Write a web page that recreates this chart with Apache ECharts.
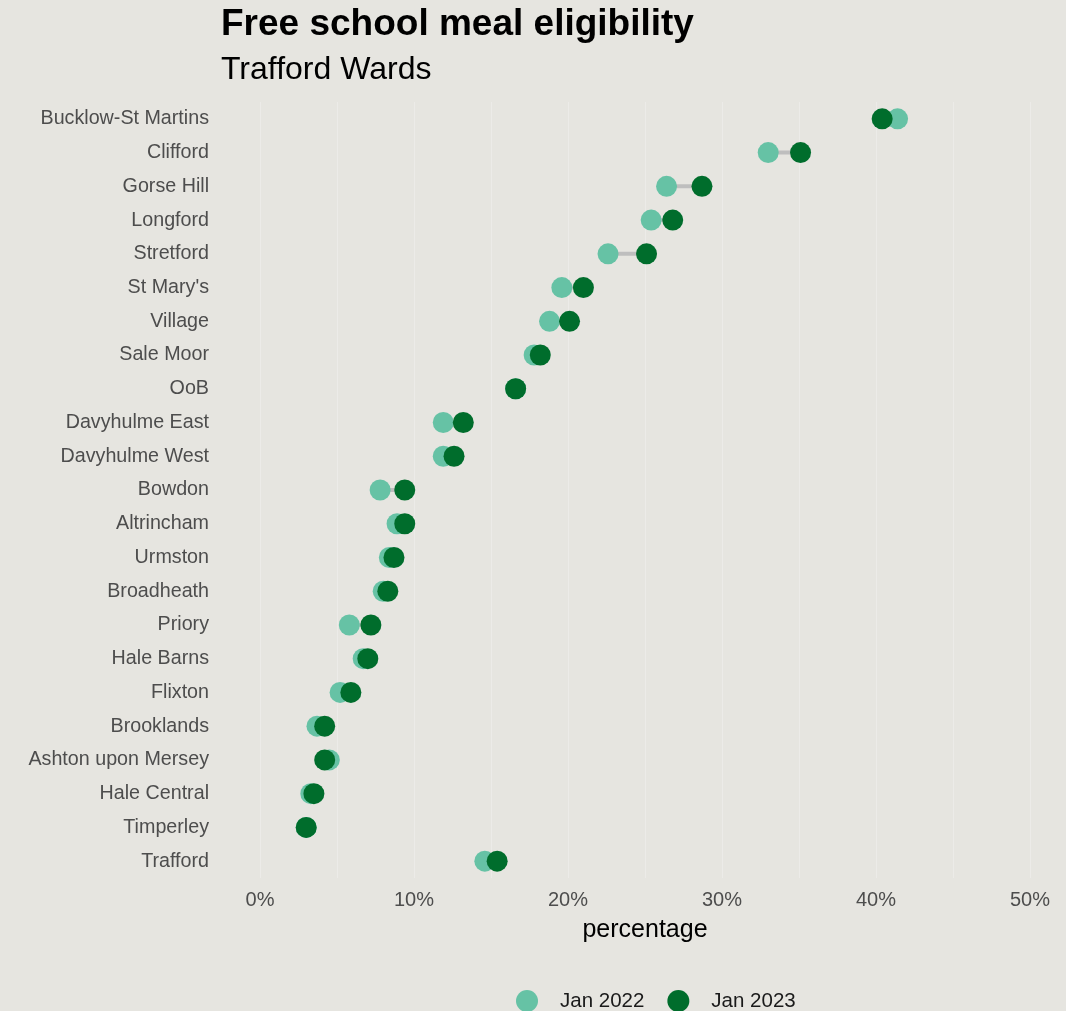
<!DOCTYPE html>
<html>
<head>
<meta charset="utf-8">
<script src="https://cdn.jsdelivr.net/npm/echarts@6/dist/echarts.min.js"></script>
<style>
html,body{margin:0;padding:0;background:#e6e5e0;}
#chart{width:1066px;height:1011px;}
</style>
</head>
<body>
<div id="chart"></div>
<script>
const wards = ["Bucklow-St Martins","Clifford","Gorse Hill","Longford","Stretford","St Mary's","Village","Sale Moor","OoB","Davyhulme East","Davyhulme West","Bowdon","Altrincham","Urmston","Broadheath","Priory","Hale Barns","Flixton","Brooklands","Ashton upon Mersey","Hale Central","Timperley","Trafford"];
const jan2022 = [41.4,33.0,26.4,25.4,22.6,19.6,18.8,17.8,16.6,11.9,11.9,7.8,8.9,8.4,8.0,5.8,6.7,5.2,3.7,4.5,3.3,3.0,14.6];
const jan2023 = [40.4,35.1,28.7,26.8,25.1,21.0,20.1,18.2,16.6,13.2,12.6,9.4,9.4,8.7,8.3,7.2,7.0,5.9,4.2,4.2,3.5,3.0,15.4];
const xTicks = [0,10,20,30,40,50];

const chart = echarts.init(document.getElementById('chart'), null, {renderer:'canvas'});
const font = '"Liberation Sans", Arial, sans-serif';
const segData = wards.map((w,i)=>[jan2022[i], jan2023[i], i]);

chart.setOption({
  backgroundColor:'#e6e5e0',
  animation:false,
  textStyle:{fontFamily:font},
  title:[
    {text:'Free school meal eligibility', left:216, top:4, padding:[2,5,2,5], textStyle:{fontFamily:font, fontSize:37, fontWeight:'bold', color:'#000'}},
    {text:'Trafford Wards', left:216, top:52, padding:[2,5,2,5], textStyle:{fontFamily:font, fontSize:32, fontWeight:'normal', color:'#000'}}
  ],
  legend:{
    top:985, left:511, itemWidth:22, itemHeight:22, itemGap:23,
    icon:'circle',
    textStyle:{fontFamily:font, fontSize:20.5, color:'#1a1a1a', padding:[0,0,0,17]},
    data:['Jan 2022','Jan 2023']
  },
  grid:{left:260, right:36, top:102, height:776, containLabel:false},
  xAxis:{
    type:'value', min:xTicks[0], max:xTicks[xTicks.length-1], interval:10,
    name:'percentage', nameLocation:'middle', nameGap:40,
    nameTextStyle:{fontFamily:font, fontSize:25, color:'#000'},
    axisLine:{show:false}, axisTick:{show:false},
    axisLabel:{formatter:v=>v+'%', fontFamily:font, fontSize:20, color:'#4d4d4d', margin:12},
    splitLine:{show:true, lineStyle:{color:'#ecebe8', width:1}},
    minorTick:{show:false, splitNumber:2},
    minorSplitLine:{show:true, lineStyle:{color:'#ecebe8', width:1}}
  },
  yAxis:{
    type:'category', data:wards, inverse:true,
    axisLine:{show:false}, axisTick:{show:false},
    axisLabel:{fontFamily:font, fontSize:19.7, color:'#4d4d4d', margin:51, lineHeight:24, padding:[5,0,0,0]},
    splitLine:{show:false}
  },
  series:[
    {
      type:'custom', name:'seg', silent:true, z:1,
      data:segData,
      encode:{x:[0,1], y:2},
      renderItem:function(params, api){
        const p1 = api.coord([api.value(0), api.value(2)]);
        const p2 = api.coord([api.value(1), api.value(2)]);
        return {type:'line', shape:{x1:p1[0], y1:p1[1], x2:p2[0], y2:p2[1]}, style:{stroke:'#bebebe', lineWidth:4}};
      }
    },
    {
      type:'scatter', name:'Jan 2022', z:2, symbolSize:21,
      itemStyle:{color:'#66c2a5', opacity:1},
      data:wards.map((w,i)=>[jan2022[i], w])
    },
    {
      type:'scatter', name:'Jan 2023', z:3, symbolSize:21,
      itemStyle:{color:'#006d2c', opacity:1},
      data:wards.map((w,i)=>[jan2023[i], w])
    }
  ]
});
</script>
</body>
</html>
